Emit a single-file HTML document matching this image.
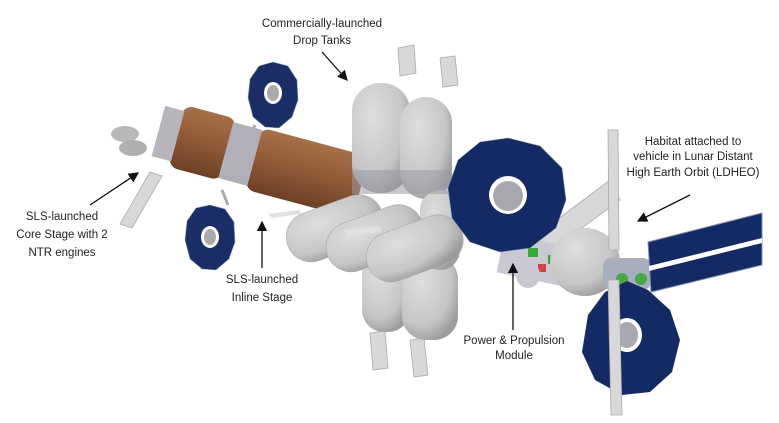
<!DOCTYPE html>
<html><head><meta charset="utf-8"><style>
html,body{margin:0;padding:0;background:#fff;width:779px;height:423px;overflow:hidden}
svg{display:block}
text{font-family:"Liberation Sans",sans-serif;font-size:11.5px;fill:#222}
</style></head><body>
<svg width="779" height="423" viewBox="0 0 779 423" xmlns="http://www.w3.org/2000/svg">
<defs>
<marker id="ah" markerWidth="8" markerHeight="8" refX="7" refY="4" orient="auto"><path d="M0,0 L8,4 L0,8 z" fill="#111"/></marker>
<radialGradient id="gt" cx="35%" cy="30%" r="75%"><stop offset="0" stop-color="#dedede"/><stop offset="0.7" stop-color="#c6c6c6"/><stop offset="1" stop-color="#9c9c9c"/></radialGradient>
<linearGradient id="br" x1="0" y1="0" x2="0" y2="1"><stop offset="0" stop-color="#a77048"/><stop offset="0.5" stop-color="#8f5a36"/><stop offset="1" stop-color="#6d4024"/></linearGradient>
</defs>
<g fill="#d8d8d8" stroke="#aaa" stroke-width="0.8">
<polygon points="398,48 414,45 416,73 400,76"/>
<polygon points="440,58 455,56 458,85 443,87"/>
<polygon points="150,172 162,176 132,228 120,224"/>
<polygon points="370,333 385,331 388,368 373,370"/>
<polygon points="410,340 424,338 428,375 414,377"/>
<polygon points="530,240 610,180 620,200 545,255"/>
</g>
<line x1="255" y1="125" x2="248" y2="142" stroke="#aaa" stroke-width="3"/>
<line x1="228" y1="205" x2="222" y2="190" stroke="#aaa" stroke-width="3"/>
<g transform="rotate(15 250 168)">
<rect x="170" y="124" width="55" height="64" rx="10" fill="url(#br)"/>
<rect x="250" y="126" width="112" height="64" rx="10" fill="url(#br)"/>
<rect x="222" y="128" width="30" height="58" fill="#b0b0b8"/>
<rect x="152" y="130" width="20" height="52" fill="#b5b5bb"/>
</g>
<ellipse cx="125" cy="134" rx="14" ry="8" fill="#b8b8b8"/>
<ellipse cx="133" cy="148" rx="14" ry="8" fill="#b0b0b0"/>
<polygon points="273,62 288,66 297,80 298,100 292,117 279,128 265,127 253,117 248,98 250,79 259,66" fill="#1b2d66" stroke="#8aa" stroke-width="0.6"/>
<ellipse cx="273" cy="93" rx="9" ry="11" fill="#fff"/>
<ellipse cx="273" cy="93" rx="6" ry="8" fill="#aaa"/>
<polygon points="210,205 225,209 234,222 235,242 229,259 216,270 202,269 190,259 185,240 187,221 196,208" fill="#1b2d66" stroke="#8aa" stroke-width="0.6"/>
<ellipse cx="210" cy="237" rx="9" ry="11" fill="#fff"/>
<ellipse cx="210" cy="237" rx="6" ry="8" fill="#aaa"/>
<g fill="url(#gt)">
<rect x="352" y="83" width="58" height="110" rx="28"/>
<rect x="400" y="97" width="52" height="102" rx="26"/>
<rect x="362" y="250" width="48" height="82" rx="22"/>
<rect x="402" y="255" width="56" height="85" rx="24"/>
<rect x="420" y="190" width="40" height="80" rx="20"/>
</g>
<rect x="352" y="170" width="100" height="24" fill="#9a9aa8" opacity="0.55"/>
<g fill="url(#gt)" stroke="#aaa" stroke-width="0.6">
<g transform="rotate(-20 330 230)"><rect x="285" y="205" width="100" height="50" rx="25"/></g>
<g transform="rotate(-20 370 240)"><rect x="325" y="215" width="100" height="50" rx="25"/></g>
<g transform="rotate(-20 410 250)"><rect x="365" y="225" width="100" height="50" rx="25"/></g>
</g>
<polygon points="268,214 300,210 300,214 272,218" fill="#e0e0e0"/>
<polygon points="345,230 380,226 382,232 348,236" fill="#e0e0e0"/>
<rect x="500" y="240" width="70" height="40" fill="#c9c9d4" transform="rotate(12 535 260)"/>
<rect x="528" y="248" width="10" height="9" fill="#3a3"/>
<rect x="548" y="255" width="10" height="9" fill="#3a3"/>
<rect x="538" y="264" width="8" height="8" fill="#c44"/>
<ellipse cx="528" cy="275" rx="12" ry="13" fill="#c8c8d0"/>
<polygon points="508,138 540,146 562,168 566,200 556,228 530,248 500,252 470,242 452,218 448,188 458,160 480,142" fill="#142a64" stroke="#7b8cb0" stroke-width="0.6"/>
<ellipse cx="508" cy="195" rx="19" ry="19" fill="#fff"/>
<ellipse cx="508" cy="196" rx="15" ry="15" fill="#a8a8b0"/>
<ellipse cx="585" cy="262" rx="35" ry="34" fill="url(#gt)"/>
<rect x="603" y="258" width="48" height="32" rx="8" fill="#a9aebf"/>
<circle cx="622" cy="279" r="6" fill="#4a4"/>
<circle cx="641" cy="279" r="6" fill="#4a4"/>
<polygon points="648,242 762,213 762,265 651,292" fill="#142a64" stroke="#7b8cb0"/>
<polygon points="649,266 762,238 762,243 649,271" fill="#fff"/>
<polygon points="627,281 648,290 670,310 680,340 672,372 650,392 622,395 595,380 582,352 588,315 605,292" fill="#142a64"/>
<ellipse cx="627" cy="335" rx="15" ry="17" fill="#fff"/>
<ellipse cx="627" cy="335" rx="11" ry="13" fill="#a8a8b0"/>
<polygon points="608,280 619,280 622,415 611,415" fill="#d8d8d8" stroke="#aaa" stroke-width="0.8"/>
<polygon points="608,130 618,130 619,250 609,250" fill="#d8d8d8" stroke="#aaa" stroke-width="0.8"/>
<g text-anchor="middle">
<text x="322" y="27">Commercially-launched</text>
<text x="322" y="44">Drop Tanks</text>
<text x="62" y="220">SLS-launched</text>
<text x="62" y="238">Core Stage with 2</text>
<text x="62" y="256">NTR engines</text>
<text x="262" y="283">SLS-launched</text>
<text x="262" y="301">Inline Stage</text>
<text x="514" y="344">Power &amp; Propulsion</text>
<text x="514" y="359">Module</text>
<text x="693" y="145">Habitat attached to</text>
<text x="693" y="160">vehicle in Lunar Distant</text>
<text x="693" y="176">High Earth Orbit (LDHEO)</text>
</g>
<g stroke="#111" stroke-width="1.3" fill="none" marker-end="url(#ah)">
<line x1="322" y1="52" x2="347" y2="80"/>
<line x1="90" y1="205" x2="138" y2="173"/>
<line x1="262" y1="268" x2="262" y2="222"/>
<line x1="513" y1="330" x2="513" y2="264"/>
<line x1="690" y1="195" x2="638" y2="221"/>
</g>
</svg>
</body></html>
